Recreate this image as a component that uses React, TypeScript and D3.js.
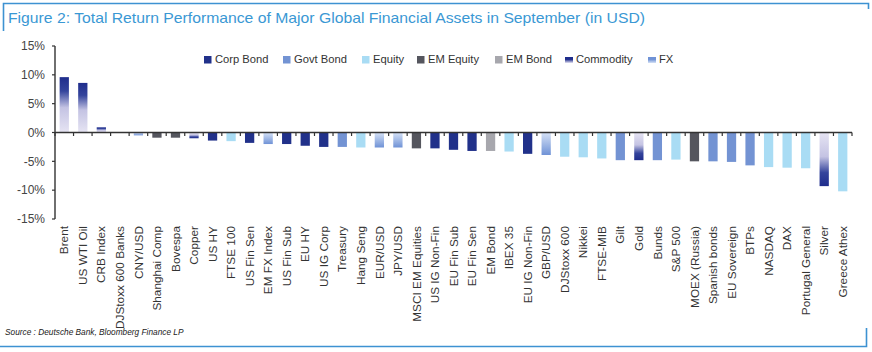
import React from "react";
import * as d3 from "d3";

const categories = ["Brent","US WTI Oil","CRB Index","DJStoxx 600 Banks","CNY/USD","Shanghai Comp","Bovespa","Copper","US HY","FTSE 100","US Fin Sen","EM FX Index","US Fin Sub","EU HY","US IG Corp","Treasury","Hang Seng","EUR/USD","JPY/USD","MSCI EM Equities","US IG Non-Fin","EU Fin Sub","EU Fin Sen","EM Bond","IBEX 35","EU IG Non-Fin","GBP/USD","DJStoxx 600","Nikkei","FTSE-MIB","Gilt","Gold","Bunds","S&P 500","MOEX (Russia)","Spanish bonds","EU Sovereign","BTPs","NASDAQ","DAX","Portugal General","Silver","Greece Athex"];
const values = [9.6,8.6,0.9,0,-0.5,-0.9,-0.9,-1.0,-1.4,-1.5,-1.8,-2.0,-2.0,-2.3,-2.5,-2.5,-2.6,-2.6,-2.6,-2.75,-2.75,-3.0,-3.2,-3.2,-3.3,-3.7,-3.9,-4.2,-4.3,-4.5,-4.8,-4.8,-4.8,-4.7,-5.0,-5.0,-5.1,-5.7,-6.0,-6.1,-6.2,-9.3,-10.2];
const types = ["Commodity","Commodity","Commodity","Equity","FX","EM Equity","EM Equity","Commodity","Corp Bond","Equity","Corp Bond","FX","Corp Bond","Corp Bond","Corp Bond","Govt Bond","Equity","FX","FX","EM Equity","Corp Bond","Corp Bond","Corp Bond","EM Bond","Equity","Corp Bond","FX","Equity","Equity","Equity","Govt Bond","Commodity","Govt Bond","Equity","EM Equity","Govt Bond","Govt Bond","Govt Bond","Equity","Equity","Equity","Commodity","Equity"];
const legendItems = ["Corp Bond","Govt Bond","Equity","EM Equity","EM Bond","Commodity","FX"];
const legendX = [204, 283, 362, 417, 495, 565, 648];
const yTicks = [15,10,5,0,-5,-10,-15];

const solid: Record<string,string> = {
  "Corp Bond": "#21318a",
  "Govt Bond": "#7393d3",
  "Equity": "#a9dcf4",
  "EM Equity": "#55565e",
  "EM Bond": "#a7a7ad",
};

function fillFor(t: string, v: number) {
  if (t === "Commodity") return v >= 0 ? "url(#commPos)" : "url(#commNeg)";
  if (t === "FX") return v >= 0 ? "url(#fxPos)" : "url(#fxNeg)";
  return solid[t];
}

export default function App() {
  const W = 872, H = 352;
  const left = 55, right = 852;
  const x = d3.scaleBand<string>().domain(categories).range([left, right]).paddingInner(0.5).paddingOuter(0.25);
  const y = d3.scaleLinear().domain([-15, 15]).range([219, 46]);
  const step = (right - left) / categories.length;
  const font = "'Liberation Sans', Arial, sans-serif";
  const blue = "#3d92d2";
  return (
    <svg width={W} height={H} style={{ position: "absolute", left: 0, top: 0 }} fontFamily={font}>
      <defs>
        <linearGradient id="commPos" x1="0" y1="0" x2="0" y2="1">
          <stop offset="0" stopColor="#1f2d8c" />
          <stop offset="0.25" stopColor="#34449c" />
          <stop offset="0.55" stopColor="#c4c3e3" />
          <stop offset="1" stopColor="#e6e4f3" />
        </linearGradient>
        <linearGradient id="commNeg" x1="0" y1="1" x2="0" y2="0">
          <stop offset="0" stopColor="#1f2d8c" />
          <stop offset="0.25" stopColor="#34449c" />
          <stop offset="0.55" stopColor="#c4c3e3" />
          <stop offset="1" stopColor="#e6e4f3" />
        </linearGradient>
        <linearGradient id="fxPos" x1="0" y1="0" x2="0" y2="1">
          <stop offset="0" stopColor="#6f92d6" />
          <stop offset="1" stopColor="#d6e2f6" />
        </linearGradient>
        <linearGradient id="fxNeg" x1="0" y1="1" x2="0" y2="0">
          <stop offset="0" stopColor="#6f92d6" />
          <stop offset="1" stopColor="#d6e2f6" />
        </linearGradient>
        <linearGradient id="commLeg" x1="0" y1="0" x2="0" y2="1">
          <stop offset="0" stopColor="#1f2d8c" />
          <stop offset="0.4" stopColor="#1f2d8c" />
          <stop offset="1" stopColor="#e6e4f3" />
        </linearGradient>
        <linearGradient id="fxLeg" x1="0" y1="0" x2="0" y2="1">
          <stop offset="0" stopColor="#6f92d6" />
          <stop offset="0.4" stopColor="#6f92d6" />
          <stop offset="1" stopColor="#d6e2f6" />
        </linearGradient>
      </defs>
      <rect width={W} height={H} fill="#fff" />
      <path d={`M3.5,31 V3.5 H868.5 V9`} fill="none" stroke={blue} strokeWidth={1.6} />
      <path d={`M0,346.5 H866.5 V328`} fill="none" stroke={blue} strokeWidth={1.6} />
      <text x={8} y={23} fontSize={15} fill="#3a98d4" textLength={637} lengthAdjust="spacingAndGlyphs">Figure 2: Total Return Performance of Major Global Financial Assets in September (in USD)</text>
      {categories.map((c, i) => {
        const v = values[i];
        const y0 = y(0), y1 = y(v);
        return <rect key={c} x={x(c)} y={Math.min(y0, y1)} width={x.bandwidth()} height={Math.abs(y1 - y0)} fill={fillFor(types[i], v)} />;
      })}
      <line x1={left} x2={left} y1={y(15)} y2={y(-15)} stroke="#333" strokeWidth={1.4} />
      {yTicks.map(t => (
        <g key={t}>
          <line x1={left - 3} x2={left} y1={y(t)} y2={y(t)} stroke="#333" strokeWidth={1.2} />
          <text x={45} y={y(t)} dy="0.35em" textAnchor="end" fontSize={12} fill="#444">{t}%</text>
        </g>
      ))}
      <line x1={left} x2={right} y1={y(0)} y2={y(0)} stroke="#333" strokeWidth={1.4} />
      {d3.range(categories.length + 1).map(k => (
        <line key={k} x1={left + k * step} x2={left + k * step} y1={y(0)} y2={y(0) + 3.5} stroke="#333" strokeWidth={1.2} />
      ))}
      {categories.map(c => {
        const cx = (x(c) as number) + x.bandwidth() / 2;
        return <text key={c} transform={`translate(${cx},226) rotate(-90)`} dy="0.35em" textAnchor="end" fontSize={11.8} fill="#333">{c}</text>;
      })}
      {legendItems.map((l, i) => (
        <g key={l}>
          {l === "Commodity" || l === "FX" ? (
            <rect x={legendX[i]} y={57} width={8} height={6} fill={l === "Commodity" ? "url(#commLeg)" : "url(#fxLeg)"} />
          ) : (
            <rect x={legendX[i]} y={56} width={7.5} height={7.5} fill={solid[l]} />
          )}
          <text x={legendX[i] + 11} y={59.5} dy="0.35em" fontSize={11.2} fill="#333">{l}</text>
        </g>
      ))}
      <text x={5} y={335} fontSize={8.3} fontStyle="italic" fill="#222">Source : Deutsche Bank, Bloomberg Finance LP</text>
    </svg>
  );
}
